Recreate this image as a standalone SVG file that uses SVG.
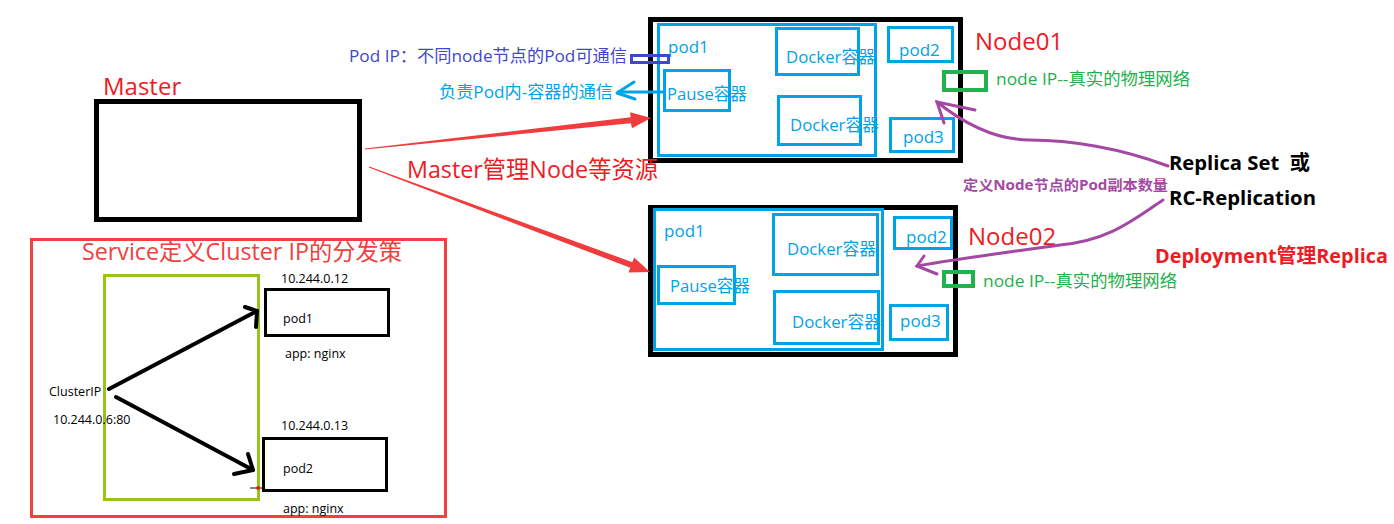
<svg xmlns="http://www.w3.org/2000/svg" width="1394" height="524" viewBox="0 0 1394 524">
<style>
text{font-family:"Open Sans","Noto Sans CJK SC",sans-serif}
.blk{fill:none;stroke:#000;stroke-width:5}
.bl{fill:none;stroke:#00A2E8;stroke-width:3}
.bt{fill:#00A2E8;font-size:17px}
.rt{fill:#ED1C24;font-size:24px}
.gt{fill:#22B14C;font-size:17px}
.gr{fill:none;stroke:#22B14C;stroke-width:4}
.pu{fill:none;stroke:#A349A4;stroke-width:3;stroke-linecap:round}
.bd{font-weight:bold;font-size:20px;fill:#000}
.sm{font-size:12.5px;fill:#000}
.ka{fill:none;stroke:#000;stroke-width:4;stroke-linecap:round;stroke-linejoin:round}
</style>
<rect width="1394" height="524" fill="#fff"/>

<g id="master">
<rect class="blk" x="96.5" y="101.5" width="263" height="118"/>
<text class="rt" x="103" y="95">Master</text>
</g>

<g id="node01">
<rect class="blk" x="650.5" y="19.5" width="310" height="141"/>
<rect class="bl" x="658.5" y="24.5" width="217" height="131"/>
<rect class="bl" x="776.5" y="28.5" width="82" height="46"/>
<rect class="bl" x="664.5" y="70.5" width="65" height="40"/>
<rect class="bl" x="778.5" y="96.5" width="82" height="48"/>
<rect class="bl" x="888.5" y="27.5" width="64" height="34"/>
<rect class="bl" x="890.5" y="118.5" width="63" height="33"/>
<text class="bt" x="668" y="53">pod1</text>
<text class="bt" x="786" y="63" textLength="89" lengthAdjust="spacingAndGlyphs">Docker容器</text>
<text class="bt" x="667" y="100" textLength="80" lengthAdjust="spacingAndGlyphs">Pause容器</text>
<text class="bt" x="790" y="131" textLength="89" lengthAdjust="spacingAndGlyphs">Docker容器</text>
<text class="bt" x="899" y="56">pod2</text>
<text class="bt" x="903" y="143">pod3</text>
<rect class="gr" x="944" y="72" width="42" height="18"/>
<text class="gt" x="996" y="85" textLength="194" lengthAdjust="spacingAndGlyphs">node IP--真实的物理网络</text>
<text class="rt" x="975" y="50">Node01</text>
</g>

<g id="node02">
<rect class="blk" x="650.5" y="207.5" width="305" height="147"/>
<rect class="bl" x="654.5" y="209.5" width="228" height="140"/>
<rect class="bl" x="773.5" y="214.5" width="104" height="60"/>
<rect class="bl" x="658.5" y="266.5" width="76" height="37"/>
<rect class="bl" x="774.5" y="291.5" width="104" height="52"/>
<rect class="bl" x="894.5" y="217.5" width="57" height="31"/>
<rect class="bl" x="890.5" y="305.5" width="57" height="34"/>
<text class="bt" x="664" y="237">pod1</text>
<text class="bt" x="787" y="255" textLength="89" lengthAdjust="spacingAndGlyphs">Docker容器</text>
<text class="bt" x="670" y="292" textLength="80" lengthAdjust="spacingAndGlyphs">Pause容器</text>
<text class="bt" x="792" y="328" textLength="89" lengthAdjust="spacingAndGlyphs">Docker容器</text>
<text class="bt" x="906" y="243">pod2</text>
<text class="bt" x="900" y="327">pod3</text>
<rect class="gr" x="944" y="272" width="29" height="14"/>
<text class="gt" x="983" y="287" textLength="194" lengthAdjust="spacingAndGlyphs">node IP--真实的物理网络</text>
<text class="rt" x="968" y="245">Node02</text>
</g>

<g id="pod-ip">
<rect x="631.5" y="55.5" width="37" height="7" fill="none" stroke="#3F48CC" stroke-width="3"/>
<text x="349" y="62" font-size="17" fill="#3F48CC" textLength="278" lengthAdjust="spacingAndGlyphs">Pod IP：不同node节点的Pod可通信</text>
</g>

<g id="pause-note">
<text class="bt" x="439" y="98" textLength="174" lengthAdjust="spacingAndGlyphs">负责Pod内-容器的通信</text>
</g>

<g id="master-label">
<text class="rt" x="407" y="178" textLength="251" lengthAdjust="spacingAndGlyphs">Master管理Node等资源</text>
</g>

<g id="replica">
<text class="bd" x="1169" y="170" textLength="141" lengthAdjust="spacingAndGlyphs">Replica Set &#160;或</text>
<text class="bd" x="1169" y="205" textLength="147" lengthAdjust="spacingAndGlyphs">RC-Replication</text>
<text x="963" y="190" font-size="14" font-weight="bold" fill="#A349A4" textLength="205" lengthAdjust="spacingAndGlyphs">定义Node节点的Pod副本数量</text>
<text x="1155" y="263" font-size="20" font-weight="bold" fill="#ED1C24" textLength="233" lengthAdjust="spacingAndGlyphs">Deployment管理Replica</text>
</g>

<g id="service">
<rect x="31.5" y="239.5" width="414" height="277" fill="none" stroke="#F04040" stroke-width="3"/>
<text x="82" y="260" font-size="23" fill="#F04040" textLength="320" lengthAdjust="spacingAndGlyphs">Service定义Cluster IP的分发策</text>
<rect x="104.5" y="275.5" width="154" height="224" fill="none" stroke="#99C31A" stroke-width="3"/>
<rect x="265.5" y="289.5" width="123" height="46" fill="none" stroke="#000" stroke-width="3"/>
<rect x="263.5" y="438.5" width="123" height="52" fill="none" stroke="#000" stroke-width="3"/>
<text class="sm" x="281" y="283">10.244.0.12</text>
<text class="sm" x="283" y="323">pod1</text>
<text class="sm" x="285" y="358">app: nginx</text>
<text class="sm" x="281" y="430">10.244.0.13</text>
<text class="sm" x="283" y="473">pod2</text>
<text class="sm" x="283" y="513">app: nginx</text>
<text class="sm" x="49" y="396">ClusterIP</text>
<text class="sm" x="53" y="424">10.244.0.6:80</text>
</g>

<g id="connectors">
<polygon fill="#F03C3C" points="365,149.5 630.8,123.2 632,128.2 651,118 630.2,112.2 630.6,117.2 365,148.5"/>
<polygon fill="#F03C3C" points="368.8,167.5 630.3,267.8 628.5,272.5 650,272 634.1,257.5 632.4,262.2 369.2,166.5"/>
<line x1="617" y1="92" x2="664" y2="92" stroke="#00A2E8" stroke-width="3"/>
<polyline points="634,82 617,93 635,99" fill="none" stroke="#00A2E8" stroke-width="3" stroke-linecap="round" stroke-linejoin="round"/>
<path class="pu" d="M1168,166 C1120,148 1070,140 1030,140 C995,140 962,122 937,102"/>
<polyline class="pu" points="975,110 937,102 944,123"/>
<path class="pu" d="M1163,200 C1133,220 1110,240 1060,245 C1010,252 962,258 917,266"/>
<polyline class="pu" points="924,256 917,266 937,274"/>
<line class="ka" x1="109" y1="389" x2="257" y2="311"/>
<polyline class="ka" points="245,307 257,311 256,327"/>
<line class="ka" x1="116" y1="397" x2="253" y2="470"/>
<polyline class="ka" points="248,454 253,470 234,474"/>
<line x1="250" y1="488" x2="262" y2="488" stroke="#000" stroke-width="1"/>
<circle cx="258" cy="488" r="2" fill="#E02020"/>
</g>
</svg>
